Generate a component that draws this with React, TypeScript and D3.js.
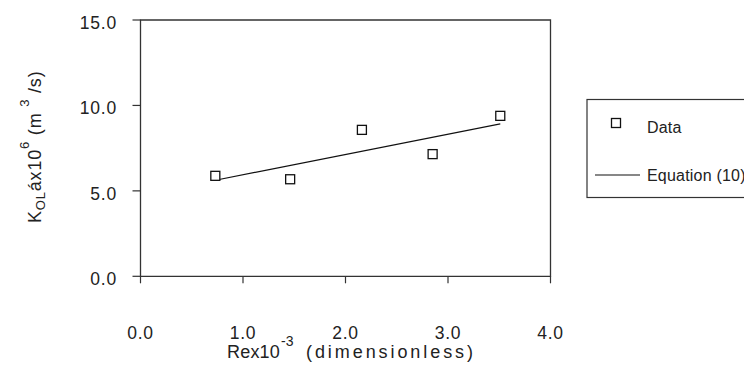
import React from "react";
import * as d3 from "d3";

const dataX = [0.73, 1.46, 2.16, 2.85, 3.51];
const dataY = [5.88, 5.68, 8.57, 7.15, 9.39];
const fitX = [0.73, 3.51];
const fitY = [5.62, 8.92];
const xTicks = [0, 1, 2, 3, 4];
const yTicks = [0, 5, 10, 15];
const legendLabels = ["Data", "Equation (10)"];

const W = 744;
const H = 378;
const FONT = "'Liberation Sans', Arial, sans-serif";
const INK = "#222";

export default function App() {
  const x = d3.scaleLinear().domain([0, 4]).range([140.5, 550.5]);
  const y = d3.scaleLinear().domain([0, 15]).range([276.3, 20]);
  const line = d3
    .line<number>()
    .x((_, i) => x(fitX[i]))
    .y((d) => y(d));
  const x0 = x(0), x1 = x(4), y0 = y(0), y1 = y(15);
  return (
    <svg
      width={W}
      height={H}
      style={{ position: "absolute", left: 0, top: 0, background: "#fff" }}
      fontFamily={FONT}
    >
      <rect x={0} y={0} width={W} height={H} fill="#fff" />
      {/* frame */}
      <path
        d={`M${x0},${y0}V${y1}H${x1}V${y0}Z`}
        fill="none"
        stroke="#333"
        strokeWidth={1.3}
      />
      {yTicks.map((t) => (
        <g key={"y" + t}>
          <line x1={x0 - 8} x2={x0} y1={y(t)} y2={y(t)} stroke="#333" strokeWidth={1.2} />
          <text
            x={117}
            y={y(t) + 2.5}
            dy="0.36em"
            textAnchor="end"
            fontSize={17.5}
            letterSpacing={0.8}
            fill={INK}
          >
            {t.toFixed(1)}
          </text>
        </g>
      ))}
      {xTicks.map((t) => (
        <g key={"x" + t}>
          <line x1={x(t)} x2={x(t)} y1={y0} y2={y0 + 7} stroke="#333" strokeWidth={1.2} />
          <text
            x={x(t)}
            y={332.5}
            dy="0.36em"
            textAnchor="middle"
            fontSize={17.5}
            letterSpacing={0.8}
            fill={INK}
          >
            {t.toFixed(1)}
          </text>
        </g>
      ))}
      {/* fit line */}
      <path d={line(fitY) || ""} fill="none" stroke="#111" strokeWidth={1.2} />
      {/* data markers */}
      {dataX.map((d, i) => (
        <rect
          key={"p" + i}
          x={x(d) - 4.5}
          y={y(dataY[i]) - 4.5}
          width={9}
          height={9}
          fill="#fff"
          stroke="#111"
          strokeWidth={1.3}
        />
      ))}
      {/* x axis title */}
      <g fill={INK}>
        <text x={227} y={358} fontSize={18} letterSpacing={0.2}>
          Rex10
        </text>
        <text x={281} y={346} fontSize={14}>
          -3
        </text>
        <text x={306} y={358} fontSize={18} textLength={167} lengthAdjust="spacing">
          (dimensionless)
        </text>
      </g>
      {/* y axis title */}
      <text
        transform={`translate(41,223) rotate(-90)`}
        fontSize={18}
        letterSpacing={0.8}
        fill={INK}
      >
        K
        <tspan dy={4} fontSize={13}>OL</tspan>
        <tspan dy={-4}>áx10</tspan>
        <tspan dy={-12} fontSize={13}>6</tspan>
        <tspan dy={12}> (m </tspan>
        <tspan dy={-12} fontSize={13}>3</tspan>
        <tspan dy={12}> /s)</tspan>
      </text>
      {/* legend */}
      <rect x={587} y={99.5} width={200} height={98} fill="#fff" stroke="#333" strokeWidth={1.2} />
      <rect x={611.5} y={118.5} width={9} height={9} fill="#fff" stroke="#111" strokeWidth={1.3} />
      <text x={647} y={127} dy="0.36em" fontSize={16} letterSpacing={0.2} fill={INK}>
        {legendLabels[0]}
      </text>
      <line x1={595} x2={640} y1={175} y2={175} stroke="#111" strokeWidth={1.2} />
      <text x={647} y={175} dy="0.36em" fontSize={16} letterSpacing={0.2} fill={INK}>
        {legendLabels[1]}
      </text>
    </svg>
  );
}
